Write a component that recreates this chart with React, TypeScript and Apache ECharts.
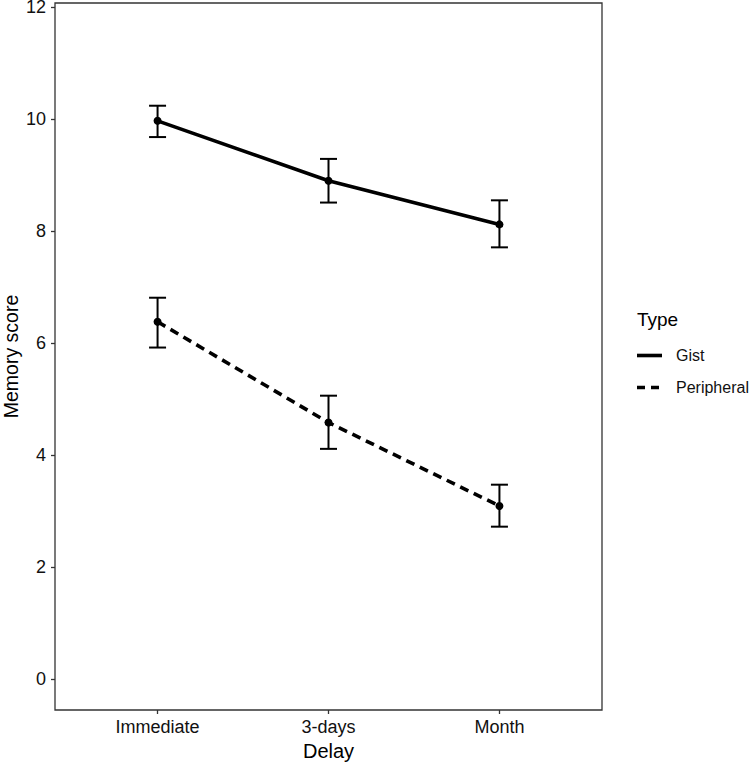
import React, { useEffect, useRef } from 'react';
import * as echarts from 'echarts';

// --- data ---
const categories = ['Immediate', '3-days', 'Month'];
const xPos = [1, 2, 3];
const gistMean = [9.97, 8.9, 8.12];
const gistLow = [9.68, 8.51, 7.71];
const gistHigh = [10.24, 9.29, 8.55];
const periMean = [6.38, 4.58, 3.09];
const periLow = [5.92, 4.11, 2.72];
const periHigh = [6.81, 5.06, 3.47];
const yTicks = [0, 2, 4, 6, 8, 10, 12];

const FONT = 'Liberation Sans, Arial, Helvetica, sans-serif';

const App: React.FC = () => {
  const chartRef = useRef<HTMLDivElement>(null);

  useEffect(() => {
    if (!chartRef.current) return;
    const chart = echarts.init(chartRef.current, undefined, { renderer: 'svg' });

    const errData = (low: number[], high: number[]) => xPos.map((x, i) => [x, low[i], high[i]]);

    const errorBars = (name: string, low: number[], high: number[]) => ({
      name,
      type: 'custom',
      data: errData(low, high),
      z: 3,
      renderItem: (params: any, api: any) => {
        const x = api.value(0);
        const lo = api.coord([x, api.value(1)]);
        const hi = api.coord([x, api.value(2)]);
        const w = 8.5;
        const style = { stroke: '#000', lineWidth: 2 };
        return {
          type: 'group',
          children: [
            { type: 'line', shape: { x1: lo[0], y1: lo[1], x2: hi[0], y2: hi[1] }, style },
            { type: 'line', shape: { x1: lo[0] - w, y1: lo[1], x2: lo[0] + w, y2: lo[1] }, style },
            { type: 'line', shape: { x1: hi[0] - w, y1: hi[1], x2: hi[0] + w, y2: hi[1] }, style },
          ],
        };
      },
    });

    const lx = 637;
    const option: any = {
      animation: false,
      backgroundColor: '#fff',
      textStyle: { fontFamily: FONT },
      grid: {
        left: 55,
        right: 147,
        top: 3,
        bottom: 52,
        containLabel: false,
        outerBoundsMode: 'none',
        show: true,
        borderColor: '#333',
        borderWidth: 1.3,
        backgroundColor: 'transparent',
      },
      xAxis: {
        type: 'value',
        min: 0.4,
        max: 3.6,
        name: 'Delay',
        nameLocation: 'middle',
        nameGap: 30,
        nameTextStyle: { color: '#000', fontSize: 20, fontFamily: FONT },
        axisLine: { show: false, onZero: false },
        splitLine: { show: false },
        axisTick: { show: true, customValues: xPos, length: 4, lineStyle: { color: '#333', width: 1.3 } },
        axisLabel: {
          customValues: xPos,
          margin: 8,
          color: '#111',
          fontSize: 18,
          fontFamily: FONT,
          formatter: (v: number) => categories[Math.round(v) - 1] ?? '',
        },
      },
      yAxis: {
        type: 'value',
        min: -0.555,
        max: 12.075,
        name: 'Memory score',
        nameLocation: 'middle',
        nameGap: 34,
        nameMoveOverlap: false,
        nameTextStyle: { color: '#000', fontSize: 19.5, fontFamily: FONT },
        axisLine: { show: false, onZero: false },
        splitLine: { show: false },
        axisTick: { show: true, customValues: yTicks, length: 4, lineStyle: { color: '#333', width: 1.3 } },
        axisLabel: {
          customValues: yTicks,
          margin: 9,
          color: '#111',
          fontSize: 18,
          fontFamily: FONT,
        },
      },
      series: [
        errorBars('Gist SE', gistLow, gistHigh),
        errorBars('Peripheral SE', periLow, periHigh),
        {
          name: 'Gist',
          type: 'line',
          data: xPos.map((x, i) => [x, gistMean[i]]),
          symbol: 'circle',
          symbolSize: 8,
          itemStyle: { color: '#000' },
          lineStyle: { color: '#000', width: 3.6 },
          z: 4,
        },
        {
          name: 'Peripheral',
          type: 'line',
          data: xPos.map((x, i) => [x, periMean[i]]),
          symbol: 'circle',
          symbolSize: 8,
          itemStyle: { color: '#000' },
          lineStyle: { color: '#000', width: 3.6, type: [9, 6] },
          z: 4,
        },
      ],
      graphic: [
        {
          type: 'text',
          left: lx,
          top: 310,
          style: { text: 'Type', fill: '#000', font: `19px ${FONT}` },
        },
        {
          type: 'line',
          shape: { x1: lx, y1: 355.5, x2: lx + 25, y2: 355.5 },
          style: { stroke: '#000', lineWidth: 3.6 },
        },
        {
          type: 'text',
          left: 676,
          top: 347,
          style: { text: 'Gist', fill: '#111', font: `16px ${FONT}` },
        },
        {
          type: 'line',
          shape: { x1: lx, y1: 387.5, x2: lx + 25, y2: 387.5 },
          style: { stroke: '#000', lineWidth: 3.6, lineDash: [8, 6] },
        },
        {
          type: 'text',
          left: 676,
          top: 379,
          style: { text: 'Peripheral', fill: '#111', font: `16px ${FONT}` },
        },
      ],
    };

    chart.setOption(option);
    return () => chart.dispose();
  }, []);

  return (
    <div
      ref={chartRef}
      style={{ position: 'absolute', left: 0, top: 0, width: 749, height: 762 }}
    />
  );
};

export default App;
